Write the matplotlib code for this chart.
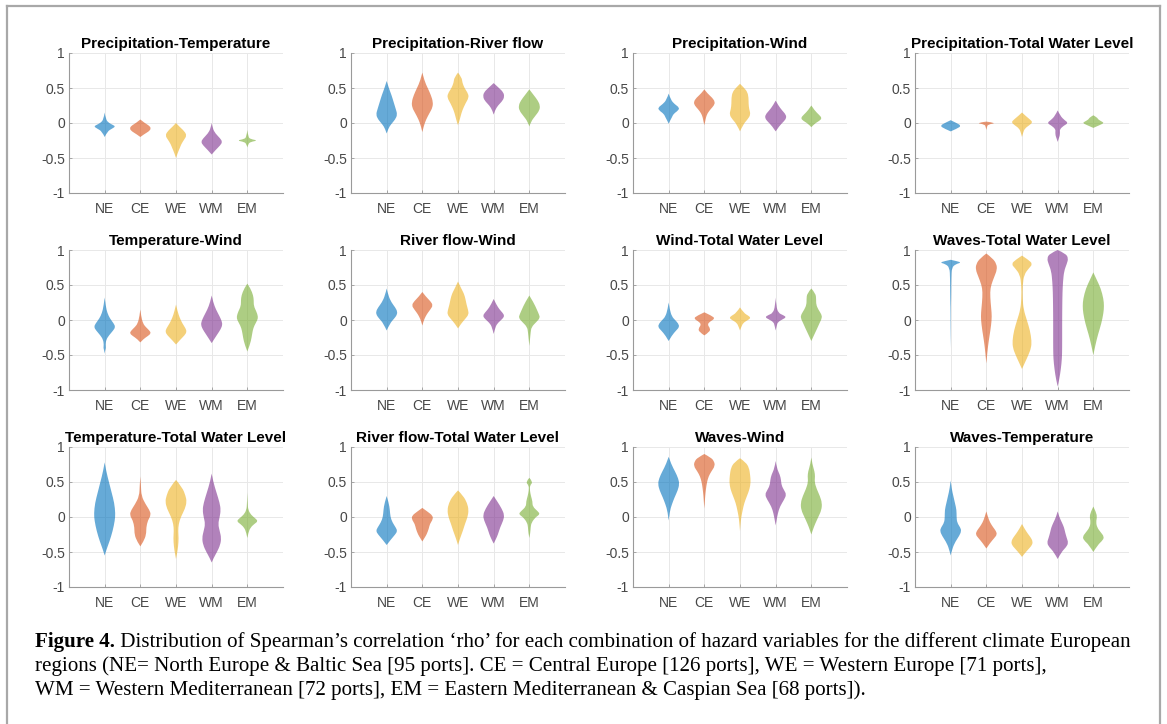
import numpy as np
import matplotlib
matplotlib.use('Agg')
from matplotlib import pyplot as plt
from matplotlib.lines import Line2D
from matplotlib.path import Path
from matplotlib.patches import PathPatch

plt.rcParams['axes.unicode_minus'] = False

regions = ['NE', 'CE', 'WE', 'WM', 'EM']
region_colors = ['#0072bd', '#d95319', '#edb120', '#7e2f8e', '#77ac30']
yticks = [-1, -0.5, 0, 0.5, 1]
ytick_labels = ['-1', '-0.5', '0', '0.5', '1']

# each violin: (rho knots, relative half width at those knots)
prec_temp = [
    ([0.15, 0.05, 0.0, -0.03, -0.05, -0.08, -0.12, -0.2], [0, 0.1, 0.4, 0.8, 1.0, 0.7, 0.25, 0]),
    ([0.05, 0.0, -0.04, -0.08, -0.12, -0.16, -0.2], [0, 0.4, 0.85, 1.0, 0.8, 0.35, 0]),
    ([0.0, -0.05, -0.12, -0.18, -0.24, -0.3, -0.36, -0.43, -0.5], [0, 0.3, 0.8, 1.0, 0.75, 0.5, 0.35, 0.15, 0]),
    ([0.0, -0.08, -0.15, -0.22, -0.27, -0.32, -0.38, -0.45], [0, 0.1, 0.35, 0.8, 1.0, 0.8, 0.4, 0]),
    ([-0.1, -0.2, -0.23, -0.25, -0.27, -0.3, -0.35], [0, 0.08, 0.3, 1.0, 0.3, 0.08, 0]),
]
prec_river = [
    ([0.6, 0.5, 0.4, 0.3, 0.2, 0.12, 0.05, -0.02, -0.08, -0.15], [0, 0.2, 0.45, 0.65, 0.85, 1.0, 0.8, 0.4, 0.15, 0]),
    ([0.72, 0.6, 0.5, 0.4, 0.3, 0.22, 0.15, 0.05, -0.05, -0.13], [0, 0.2, 0.5, 0.8, 1.0, 0.95, 0.7, 0.35, 0.12, 0]),
    ([0.72, 0.65, 0.58, 0.5, 0.42, 0.36, 0.28, 0.18, 0.1, 0.0, -0.03], [0, 0.35, 0.4, 0.6, 0.95, 1.0, 0.7, 0.4, 0.25, 0.08, 0]),
    ([0.57, 0.5, 0.44, 0.38, 0.32, 0.25, 0.18, 0.12], [0, 0.5, 0.9, 1.0, 0.85, 0.4, 0.12, 0]),
    ([0.48, 0.4, 0.32, 0.25, 0.18, 0.1, 0.02, -0.05], [0, 0.4, 0.8, 1.0, 0.95, 0.55, 0.15, 0]),
]
prec_wind = [
    ([0.42, 0.33, 0.27, 0.22, 0.18, 0.13, 0.08, 0.03, -0.01], [0, 0.2, 0.55, 1.0, 0.9, 0.45, 0.3, 0.12, 0]),
    ([0.48, 0.42, 0.36, 0.3, 0.25, 0.2, 0.14, 0.08, 0.02, -0.03], [0, 0.3, 0.75, 1.0, 0.9, 0.6, 0.3, 0.15, 0.08, 0]),
    ([0.56, 0.5, 0.44, 0.36, 0.28, 0.2, 0.12, 0.05, -0.02, -0.12], [0, 0.4, 0.7, 0.8, 0.8, 0.85, 1.0, 0.7, 0.3, 0]),
    ([0.32, 0.25, 0.18, 0.12, 0.07, 0.02, -0.04, -0.12], [0, 0.25, 0.6, 0.95, 1.0, 0.75, 0.35, 0]),
    ([0.25, 0.18, 0.12, 0.07, 0.03, -0.01, -0.06], [0, 0.3, 0.7, 1.0, 0.75, 0.3, 0]),
]
prec_twl = [
    ([0.04, 0.0, -0.04, -0.08, -0.12], [0, 0.55, 1.0, 0.6, 0]),
    ([0.02, 0.0, -0.02, -0.06, -0.1], [0, 1.0, 0.15, 0.05, 0]),
    ([0.15, 0.1, 0.05, 0.01, -0.03, -0.08, -0.14, -0.2], [0, 0.35, 0.75, 1.0, 0.7, 0.25, 0.1, 0]),
    ([0.18, 0.1, 0.04, 0.0, -0.04, -0.09, -0.13, -0.18, -0.22, -0.27], [0, 0.25, 0.65, 1.0, 0.55, 0.2, 0.22, 0.2, 0.1, 0]),
    ([0.11, 0.08, 0.05, 0.02, 0.0, -0.03, -0.07], [0, 0.35, 0.45, 0.8, 1.0, 0.6, 0]),
]
temp_wind = [
    ([0.32, 0.2, 0.1, 0.02, -0.05, -0.1, -0.15, -0.22, -0.28, -0.35, -0.4, -0.43, -0.48],
     [0, 0.1, 0.25, 0.5, 0.85, 1.0, 0.8, 0.4, 0.15, 0.08, 0.12, 0.05, 0]),
    ([0.15, 0.05, -0.05, -0.1, -0.15, -0.19, -0.23, -0.27, -0.32], [0, 0.08, 0.25, 0.5, 0.85, 1.0, 0.7, 0.3, 0]),
    ([0.22, 0.12, 0.03, -0.05, -0.12, -0.17, -0.22, -0.28, -0.35], [0, 0.15, 0.35, 0.6, 0.9, 1.0, 0.8, 0.4, 0]),
    ([0.35, 0.25, 0.15, 0.05, -0.02, -0.07, -0.13, -0.2, -0.27, -0.33], [0, 0.15, 0.4, 0.75, 0.95, 1.0, 0.85, 0.55, 0.25, 0]),
    ([0.52, 0.45, 0.35, 0.28, 0.2, 0.12, 0.05, 0.0, -0.08, -0.15, -0.25, -0.35, -0.45],
     [0, 0.3, 0.55, 0.6, 0.6, 0.85, 1.0, 0.95, 0.65, 0.5, 0.4, 0.25, 0]),
]
river_wind = [
    ([0.45, 0.35, 0.25, 0.18, 0.12, 0.07, 0.02, -0.05, -0.15], [0, 0.15, 0.45, 0.8, 1.0, 0.95, 0.7, 0.3, 0]),
    ([0.4, 0.33, 0.27, 0.21, 0.15, 0.1, 0.05, -0.02, -0.08], [0, 0.35, 0.75, 1.0, 0.75, 0.5, 0.3, 0.1, 0]),
    ([0.55, 0.45, 0.38, 0.3, 0.22, 0.14, 0.08, 0.02, -0.05, -0.12], [0, 0.3, 0.55, 0.7, 0.8, 0.95, 1.0, 0.7, 0.3, 0]),
    ([0.3, 0.22, 0.15, 0.1, 0.06, 0.02, -0.04, -0.1, -0.2], [0, 0.25, 0.55, 0.85, 1.0, 0.85, 0.4, 0.15, 0]),
    ([0.35, 0.25, 0.15, 0.08, 0.03, -0.03, -0.1, -0.18, -0.25, -0.37], [0, 0.4, 0.7, 0.9, 1.0, 0.65, 0.2, 0.12, 0.08, 0]),
]
wind_twl = [
    ([0.25, 0.15, 0.05, 0.0, -0.05, -0.1, -0.15, -0.22, -0.3], [0, 0.1, 0.3, 0.6, 0.9, 1.0, 0.7, 0.3, 0]),
    ([0.11, 0.06, 0.02, -0.03, -0.07, -0.12, -0.17, -0.22], [0, 0.7, 1.0, 0.45, 0.3, 0.55, 0.5, 0]),
    ([0.18, 0.1, 0.06, 0.03, 0.0, -0.04, -0.1, -0.15], [0, 0.35, 0.8, 1.0, 0.75, 0.3, 0.12, 0]),
    ([0.32, 0.2, 0.1, 0.07, 0.04, 0.01, -0.03, -0.08, -0.15], [0, 0.05, 0.25, 0.7, 1.0, 0.65, 0.2, 0.1, 0]),
    ([0.45, 0.38, 0.3, 0.22, 0.15, 0.08, 0.03, -0.05, -0.12, -0.2, -0.3], [0, 0.4, 0.45, 0.45, 0.65, 0.95, 1.0, 0.75, 0.55, 0.3, 0]),
]
waves_twl = [
    ([0.86, 0.84, 0.82, 0.8, 0.75, 0.6, 0.45, 0.3, 0.2, 0.0, -0.2, -0.4],
     [0, 0.6, 1.0, 0.5, 0.1, 0.06, 0.05, 0.04, 0.025, 0.02, 0.015, 0]),
    ([0.95, 0.88, 0.8, 0.72, 0.62, 0.5, 0.4, 0.25, 0.1, 0.0, -0.15, -0.3, -0.45, -0.62],
     [0, 0.6, 0.95, 1.0, 0.75, 0.45, 0.35, 0.4, 0.5, 0.5, 0.38, 0.22, 0.1, 0]),
    ([0.92, 0.86, 0.8, 0.74, 0.65, 0.5, 0.3, 0.15, 0.0, -0.15, -0.3, -0.4, -0.5, -0.6, -0.7],
     [0, 0.6, 1.0, 0.65, 0.2, 0.06, 0.06, 0.15, 0.45, 0.75, 0.9, 0.85, 0.6, 0.3, 0]),
    ([1.0, 0.95, 0.88, 0.8, 0.7, 0.55, 0.4, 0.2, 0.0, -0.2, -0.4, -0.55, -0.7, -0.85, -0.95],
     [0, 0.75, 1.0, 0.85, 0.6, 0.5, 0.45, 0.43, 0.42, 0.42, 0.42, 0.4, 0.3, 0.15, 0]),
    ([0.68, 0.58, 0.45, 0.3, 0.2, 0.1, -0.05, -0.2, -0.35, -0.5], [0, 0.3, 0.7, 0.95, 1.0, 0.95, 0.75, 0.45, 0.2, 0]),
]
temp_twl = [
    ([0.78, 0.65, 0.5, 0.35, 0.2, 0.05, -0.05, -0.2, -0.35, -0.45, -0.55], [0, 0.15, 0.4, 0.65, 0.9, 1.0, 0.95, 0.75, 0.45, 0.2, 0]),
    ([0.58, 0.45, 0.3, 0.18, 0.1, 0.03, -0.05, -0.15, -0.25, -0.35, -0.42], [0, 0.06, 0.1, 0.5, 0.85, 1.0, 0.7, 0.55, 0.55, 0.3, 0]),
    ([0.53, 0.42, 0.3, 0.22, 0.12, 0.0, -0.1, -0.2, -0.3, -0.42, -0.52, -0.6], [0, 0.6, 0.9, 1.0, 0.85, 0.45, 0.25, 0.2, 0.25, 0.2, 0.1, 0]),
    ([0.62, 0.5, 0.35, 0.2, 0.1, 0.0, -0.1, -0.2, -0.3, -0.4, -0.5, -0.58, -0.65],
     [0, 0.15, 0.45, 0.75, 0.85, 0.75, 0.6, 0.75, 0.9, 0.8, 0.5, 0.2, 0]),
    ([0.35, 0.2, 0.1, 0.03, -0.02, -0.06, -0.1, -0.15, -0.22, -0.3], [0, 0.03, 0.08, 0.35, 0.75, 1.0, 0.65, 0.3, 0.1, 0]),
]
river_twl = [
    ([0.3, 0.2, 0.1, 0.0, -0.08, -0.15, -0.2, -0.25, -0.32, -0.4], [0, 0.2, 0.3, 0.35, 0.55, 0.85, 1.0, 0.8, 0.4, 0]),
    ([0.13, 0.07, 0.02, -0.03, -0.1, -0.17, -0.25, -0.3, -0.35], [0, 0.55, 0.95, 1.0, 0.7, 0.6, 0.4, 0.2, 0]),
    ([0.38, 0.3, 0.2, 0.1, 0.0, -0.1, -0.2, -0.3, -0.4], [0, 0.5, 0.85, 1.0, 0.9, 0.65, 0.45, 0.2, 0]),
    ([0.3, 0.22, 0.12, 0.03, -0.05, -0.15, -0.25, -0.32, -0.38], [0, 0.35, 0.75, 1.0, 0.9, 0.6, 0.4, 0.2, 0]),
    ([0.56, 0.5, 0.45, 0.38, 0.3, 0.22, 0.15, 0.08, 0.04, 0.0, -0.08, -0.15, -0.22, -0.3],
     [0, 0.35, 0.05, 0.05, 0.15, 0.3, 0.3, 0.8, 1.0, 0.6, 0.2, 0.12, 0.1, 0]),
]
waves_wind = [
    ([0.86, 0.75, 0.65, 0.55, 0.47, 0.38, 0.28, 0.18, 0.08, -0.05], [0, 0.25, 0.6, 0.9, 1.0, 0.85, 0.55, 0.3, 0.1, 0]),
    ([0.9, 0.85, 0.8, 0.73, 0.65, 0.58, 0.5, 0.4, 0.3, 0.2, 0.12], [0, 0.6, 0.9, 1.0, 0.65, 0.4, 0.25, 0.15, 0.08, 0.04, 0]),
    ([0.84, 0.78, 0.7, 0.6, 0.5, 0.4, 0.3, 0.2, 0.1, 0.0, -0.1, -0.2], [0, 0.55, 0.85, 0.95, 1.0, 0.9, 0.65, 0.4, 0.25, 0.12, 0.05, 0]),
    ([0.8, 0.7, 0.6, 0.53, 0.45, 0.38, 0.32, 0.25, 0.15, 0.05, -0.05, -0.12], [0, 0.1, 0.4, 0.5, 0.55, 0.8, 1.0, 0.8, 0.4, 0.2, 0.08, 0]),
    ([0.85, 0.75, 0.65, 0.58, 0.5, 0.4, 0.3, 0.2, 0.1, 0.0, -0.1, -0.18, -0.25],
     [0, 0.1, 0.3, 0.35, 0.3, 0.5, 0.8, 1.0, 0.95, 0.65, 0.35, 0.15, 0]),
]
waves_temp = [
    ([0.52, 0.4, 0.3, 0.2, 0.1, 0.0, -0.08, -0.15, -0.2, -0.27, -0.35, -0.45, -0.55],
     [0, 0.1, 0.25, 0.4, 0.55, 0.55, 0.6, 0.9, 1.0, 0.8, 0.45, 0.15, 0]),
    ([0.08, 0.0, -0.08, -0.15, -0.2, -0.25, -0.3, -0.37, -0.45], [0, 0.15, 0.35, 0.65, 0.9, 1.0, 0.75, 0.35, 0]),
    ([-0.1, -0.17, -0.24, -0.3, -0.35, -0.4, -0.46, -0.52, -0.57], [0, 0.25, 0.55, 0.85, 1.0, 0.95, 0.6, 0.25, 0]),
    ([0.08, 0.0, -0.08, -0.15, -0.22, -0.3, -0.37, -0.43, -0.5, -0.6], [0, 0.15, 0.4, 0.6, 0.7, 0.85, 1.0, 0.8, 0.35, 0]),
    ([0.15, 0.07, 0.0, -0.07, -0.15, -0.22, -0.28, -0.33, -0.4, -0.5], [0, 0.25, 0.35, 0.25, 0.35, 0.7, 1.0, 0.9, 0.4, 0]),
]

panels = [
    ('Precipitation-Temperature', prec_temp),
    ('Precipitation-River flow', prec_river),
    ('Precipitation-Wind', prec_wind),
    ('Precipitation-Total Water Level', prec_twl),
    ('Temperature-Wind', temp_wind),
    ('River flow-Wind', river_wind),
    ('Wind-Total Water Level', wind_twl),
    ('Waves-Total Water Level', waves_twl),
    ('Temperature-Total Water Level', temp_twl),
    ('River flow-Total Water Level', river_twl),
    ('Waves-Wind', waves_wind),
    ('Waves-Temperature', waves_temp),
]

caption_bold = 'Figure 4.'
caption_lines = [
    ' Distribution of Spearman\u2019s correlation \u2018rho\u2019 for each combination of hazard variables for the different climate European',
    'regions (NE= North Europe & Baltic Sea [95 ports]. CE = Central Europe [126 ports], WE = Western Europe [71 ports],',
    'WM = Western Mediterranean [72 ports], EM = Eastern Mediterranean & Caspian Sea [68 ports]).',
]


def side_path(pts):
    # rounded outline through the knots: quadratic curves via the midpoints
    verts, codes = [pts[0]], [Path.MOVETO]
    for j in range(1, len(pts) - 1):
        mid = ((pts[j][0] + pts[j + 1][0]) / 2, (pts[j][1] + pts[j + 1][1]) / 2)
        if j == len(pts) - 2:
            mid = pts[-1]
        verts += [pts[j], mid]
        codes += [Path.CURVE3, Path.CURVE3]
    if len(pts) == 2:
        verts.append(pts[1])
        codes.append(Path.LINETO)
    return verts, codes


def draw_violin(ax, pos, ys, ws, color, half_width=0.3):
    ws = [w * half_width for w in ws]
    right = [(pos + w, y) for y, w in zip(ys, ws)]
    left = [(pos - w, y) for y, w in zip(ys, ws)][::-1]
    v1, c1 = side_path(right)
    v2, c2 = side_path(left)
    c2[0] = Path.LINETO
    verts = v1 + v2 + [v1[0]]
    codes = c1 + c2 + [Path.CLOSEPOLY]
    ax.add_patch(PathPatch(Path(verts, codes), facecolor=color, alpha=0.6, lw=0))


W, H = 1167, 724
fig = plt.figure(figsize=(W / 100, H / 100), dpi=100)

# thin frame round the figure
for xs, ys in [([7, 7], [6, H + 5]), ([7, 1160], [6, 6]), ([1160, 1160], [6, H + 5])]:
    fig.add_artist(Line2D([x / W for x in xs], [1 - y / H for y in ys], color='#a8a8a8', lw=1.6))

col_left = [69, 351, 633, 915]
row_top = [53, 250, 447]
ax_w, ax_h = 214, 140

for k, (title, violins) in enumerate(panels):
    r, c = divmod(k, 4)
    ax = fig.add_axes([col_left[c] / W, 1 - (row_top[r] + ax_h) / H, ax_w / W, ax_h / H])
    for i, (ys, ws) in enumerate(violins):
        draw_violin(ax, i + 1, ys, ws, region_colors[i])
    ax.set_xlim(0, 6)
    ax.set_ylim(-1, 1)
    ax.set_xticks(range(1, 6))
    ax.set_xticklabels(regions)
    ax.set_yticks(yticks)
    ax.set_yticklabels(ytick_labels)
    ax.grid(True, color='#e8e8e8', lw=0.7)
    ax.set_axisbelow(True)
    for s in ['top', 'right']:
        ax.spines[s].set_visible(False)
    for s in ['left', 'bottom']:
        ax.spines[s].set_color('#9a9a9a')
        ax.spines[s].set_linewidth(0.8)
    ax.tick_params(direction='in', length=2.5, width=0.6, color='#9a9a9a',
                   labelcolor='#474747', labelsize=10)
    ax.tick_params(axis='x', pad=6.5)
    ax.tick_params(axis='y', pad=3)
    for lab in ax.get_xticklabels() + ax.get_yticklabels():
        lab.set_fontfamily('Liberation Sans')
    ax.set_title(title, fontsize=11, fontweight='bold', family='Liberation Sans', pad=3.5)

# caption
serif = 'Liberation Serif'
cap_size = 15.1
baselines = [647, 671, 695]
t0 = fig.text(35 / W, 1 - baselines[0] / H, caption_bold, fontsize=cap_size, fontweight='bold',
              family=serif, va='baseline', ha='left')
fig.canvas.draw()
bb = t0.get_window_extent(fig.canvas.get_renderer())
fig.text(bb.x1 / W, 1 - baselines[0] / H, caption_lines[0], fontsize=cap_size, family=serif,
         va='baseline', ha='left')
for line, b in zip(caption_lines[1:], baselines[1:]):
    fig.text(35 / W, 1 - b / H, line, fontsize=cap_size, family=serif, va='baseline', ha='left')

fig.savefig('out.png', dpi=100)
